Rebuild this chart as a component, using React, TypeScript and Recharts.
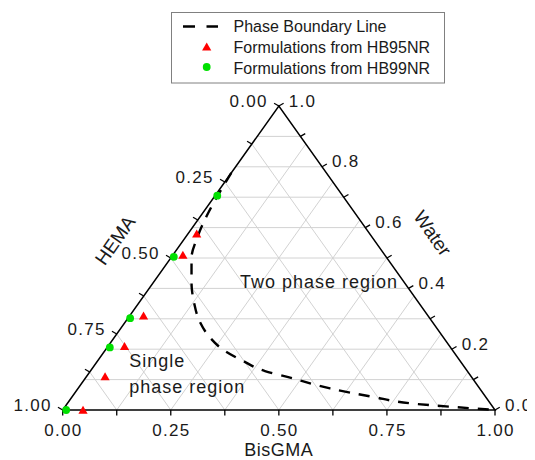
import React from 'react';
import { ScatterChart, Scatter, XAxis, YAxis, Legend } from 'recharts';

const FONT = '"Liberation Sans", Arial, Helvetica, sans-serif';

// Ternary compositions (mass fractions). HEMA = 1 - BisGMA - Water
const hb95BisGMA = [0.02, 0.023, 0.032, 0.038, 0.043, 0.047];
const hb95HEMA = [0.4, 0.467, 0.658, 0.752, 0.847, 0.953];
const hb95Water = [0.58, 0.51, 0.31, 0.21, 0.11, 0.0];

const hb99BisGMA = [0.005, 0.005, 0.005, 0.006, 0.008];
const hb99HEMA = [0.29, 0.491, 0.693, 0.788, 0.992];
const hb99Water = [0.705, 0.504, 0.302, 0.206, 0.0];

const boundaryBisGMA = [0.0, 0.006, 0.014, 0.028, 0.048, 0.089, 0.128, 0.173, 0.223, 0.268, 0.337, 0.404, 0.465, 0.583, 0.697, 0.8, 0.898, 1.0];
const boundaryWater = [0.78, 0.705, 0.638, 0.566, 0.5, 0.418, 0.352, 0.289, 0.237, 0.201, 0.161, 0.128, 0.109, 0.071, 0.043, 0.021, 0.01, 0.0];

// Axis ticks
const bisgmaTicks = [0, 0.125, 0.25, 0.375, 0.5, 0.625, 0.75, 0.875, 1];
const bisgmaLabels = ['0.00', '', '0.25', '', '0.50', '', '0.75', '', '1.00'];
const hemaTicks = [0, 0.125, 0.25, 0.375, 0.5, 0.625, 0.75, 0.875, 1];
const hemaLabels = ['0.00', '', '0.25', '', '0.50', '', '0.75', '', '1.00'];
const waterTicks = [0, 0.1, 0.2, 0.3, 0.4, 0.5, 0.6, 0.7, 0.8, 0.9, 1];
const waterLabels = ['0.0', '', '0.2', '', '0.4', '', '0.6', '', '0.8', '', '1.0'];

// Grid levels
const gridWater = [0.1, 0.2, 0.3, 0.4, 0.5, 0.6, 0.7, 0.8, 0.9];
const gridBisGMA = [0.125, 0.25, 0.375, 0.5, 0.625, 0.75, 0.875];
const gridHEMA = [0.125, 0.25, 0.375, 0.5, 0.625, 0.75, 0.875];

// ternary (BisGMA, Water) -> cartesian chart coordinates
const toXY = (b: number, w: number) => ({ x: b + w / 2, y: w });

const hb95Points = hb95BisGMA.map((b, i) => ({ ...toXY(b, hb95Water[i]), hema: hb95HEMA[i] }));
const hb99Points = hb99BisGMA.map((b, i) => ({ ...toXY(b, hb99Water[i]), hema: hb99HEMA[i] }));
const boundaryPoints = boundaryBisGMA.map((b, i) => toXY(b, boundaryWater[i]));

const gridLines: { x: number; y: number }[][] = [
  ...gridWater.map((w) => [toXY(0, w), toXY(1 - w, w)]),
  ...gridBisGMA.map((b) => [toXY(b, 0), toXY(b, 1 - b)]),
  ...gridHEMA.map((h) => [toXY(1 - h, 0), toXY(0, 1 - h)]),
];

const edgePoints = [toXY(0, 0), toXY(1, 0), toXY(0, 1), toXY(0, 0)];

const bottomTickPts = bisgmaTicks.map((t, i) => ({ ...toXY(t, 0), label: bisgmaLabels[i] }));
const leftTickPts = hemaTicks.map((t, i) => ({ ...toXY(0, 1 - t), label: hemaLabels[i] }));
const rightTickPts = waterTicks.map((t, i) => ({ ...toXY(1 - t, t), label: waterLabels[i] }));

const Empty = () => <g />;

const TICK_LEN = 5.5;
const C30 = Math.cos(Math.PI / 6) * TICK_LEN;
const S30 = Math.sin(Math.PI / 6) * TICK_LEN;

const tickText = {
  fontFamily: FONT,
  fontSize: 17,
  letterSpacing: 1.3,
  fill: '#1a1a1a',
};

const BottomTick = (p: any) => (
  <g>
    <line x1={p.cx} y1={p.cy} x2={p.cx} y2={p.cy + TICK_LEN} stroke="#000" strokeWidth={1.3} />
    {p.payload.label ? (
      <text x={p.cx + 0.6} y={p.cy + 26} textAnchor="middle" {...tickText}>
        {p.payload.label}
      </text>
    ) : null}
  </g>
);

const LeftTick = (p: any) => (
  <g>
    <line x1={p.cx} y1={p.cy} x2={p.cx - C30} y2={p.cy - S30} stroke="#000" strokeWidth={1.3} />
    {p.payload.label ? (
      <text x={p.cx - 11} y={p.cy + 0.5} textAnchor="end" {...tickText}>
        {p.payload.label}
      </text>
    ) : null}
  </g>
);

const RightTick = (p: any) => (
  <g>
    <line x1={p.cx} y1={p.cy} x2={p.cx + C30} y2={p.cy - S30} stroke="#000" strokeWidth={1.3} />
    {p.payload.label ? (
      <text x={p.cx + 10} y={p.cy + 0.5} textAnchor="start" {...tickText}>
        {p.payload.label}
      </text>
    ) : null}
  </g>
);

const Triangle = (p: any) => (
  <path
    d={`M${p.cx},${p.cy - 4.2} L${p.cx + 4.6},${p.cy + 3.8} L${p.cx - 4.6},${p.cy + 3.8} Z`}
    fill="#ff0000"
  />
);

const Dot = (p: any) => <circle cx={p.cx} cy={p.cy} r={3.9} fill="#00e000" />;

const titleStyle = { fontFamily: FONT, fontSize: 19, fill: '#1a1a1a' };
const bottomTitleStyle = { fontFamily: FONT, fontSize: 18, letterSpacing: 0.5, fill: '#1a1a1a' };
const regionStyle = { fontFamily: FONT, fontSize: 18, letterSpacing: 1, fill: '#1a1a1a' };

const makeText = (lines: string[], dx: number, dy: number, rotate: number, anchor: string, style: any, lineGap = 0) =>
  (p: any) => {
    const x = p.cx + dx;
    const y = p.cy + dy;
    return (
      <text
        x={x}
        y={y}
        textAnchor={anchor}
        transform={rotate ? `rotate(${rotate}, ${x}, ${y})` : undefined}
        dominantBaseline={rotate ? 'central' : undefined}
        {...style}
      >
        {lines.map((l, i) => (
          <tspan key={i} x={x} dy={i === 0 ? 0 : lineGap}>
            {l}
          </tspan>
        ))}
      </text>
    );
  };

const renderLegend = () => (
  <svg width={275} height={72} style={{ display: 'block', overflow: 'visible' }}>
    <rect x={0.5} y={0.5} width={273} height={70.5} fill="#ffffff" stroke="#808080" strokeWidth={1} />
    <line x1={12} y1={14.5} x2={47} y2={14.5} stroke="#000" strokeWidth={2.4} strokeDasharray="12 11.5" />
    <path d="M35.7,30.6 L40.3,38.6 L31.1,38.6 Z" fill="#ff0000" />
    <circle cx={35.7} cy={55} r={3.9} fill="#00e000" />
    <text x={62.5} y={20.4} fontFamily={FONT} fontSize={16} fill="#1a1a1a">Phase Boundary Line</text>
    <text x={62.5} y={41.2} fontFamily={FONT} fontSize={16} fill="#1a1a1a">Formulations from HB95NR</text>
    <text x={62.5} y={61.6} fontFamily={FONT} fontSize={16} fill="#1a1a1a">Formulations from HB99NR</text>
  </svg>
);

export default function App() {
  return (
    <ScatterChart width={527} height={452} margin={{ top: 98, right: 40, bottom: 50, left: 54.7 }}>
      <XAxis type="number" dataKey="x" domain={[0, 1]} ticks={[0, 1]} hide />
      <YAxis type="number" dataKey="y" domain={[0, 1]} ticks={[0, 1]} hide />
      <Legend
        layout="vertical"
        align="center"
        verticalAlign="middle"
        wrapperStyle={{ position: 'absolute', left: 163, top: 3.7, width: 275, height: 72 }}
        content={renderLegend}
      />
      {gridLines.map((seg, i) => (
        <Scatter
          key={'grid' + i}
          data={seg}
          line={{ stroke: '#d2d2d2', strokeWidth: 1 }}
          shape={Empty}
          legendType="none"
          isAnimationActive={false}
        />
      ))}
      <Scatter
        data={edgePoints}
        line={{ stroke: '#000', strokeWidth: 1.5, strokeLinejoin: 'miter' }}
        shape={Empty}
        legendType="none"
        isAnimationActive={false}
      />
      <Scatter data={bottomTickPts} shape={BottomTick} legendType="none" isAnimationActive={false} />
      <Scatter data={leftTickPts} shape={LeftTick} legendType="none" isAnimationActive={false} />
      <Scatter data={rightTickPts} shape={RightTick} legendType="none" isAnimationActive={false} />
      <Scatter
        name="Phase Boundary Line"
        data={boundaryPoints}
        line={{ stroke: '#000', strokeWidth: 2.4, strokeDasharray: '11 9' }}
        lineJointType="monotoneY"
        shape={Empty}
        isAnimationActive={false}
      />
      <Scatter name="Formulations from HB95NR" data={hb95Points} shape={Triangle} isAnimationActive={false} />
      <Scatter name="Formulations from HB99NR" data={hb99Points} shape={Dot} isAnimationActive={false} />
      {/* Axis titles and region annotations */}
      <Scatter data={[toXY(0.5, 0)]} shape={makeText(['BisGMA'], 0, 46.3, 0, 'middle', bottomTitleStyle)} legendType="none" isAnimationActive={false} />
      <Scatter data={[toXY(0, 0.5)]} shape={makeText(['HEMA'], -56, -18, -55, 'middle', titleStyle)} legendType="none" isAnimationActive={false} />
      <Scatter data={[toXY(0.5, 0.5)]} shape={makeText(['Water'], 46, -25, 55, 'middle', titleStyle)} legendType="none" isAnimationActive={false} />
      <Scatter data={[toXY(0.21, 0.4)]} shape={makeText(['Two phase region'], 0, 0, 0, 'start', regionStyle)} legendType="none" isAnimationActive={false} />
      <Scatter data={[toXY(0.084, 0.14)]} shape={makeText(['Single', 'phase region'], 0, 0, 0, 'start', regionStyle, 25.4)} legendType="none" isAnimationActive={false} />
    </ScatterChart>
  );
}
